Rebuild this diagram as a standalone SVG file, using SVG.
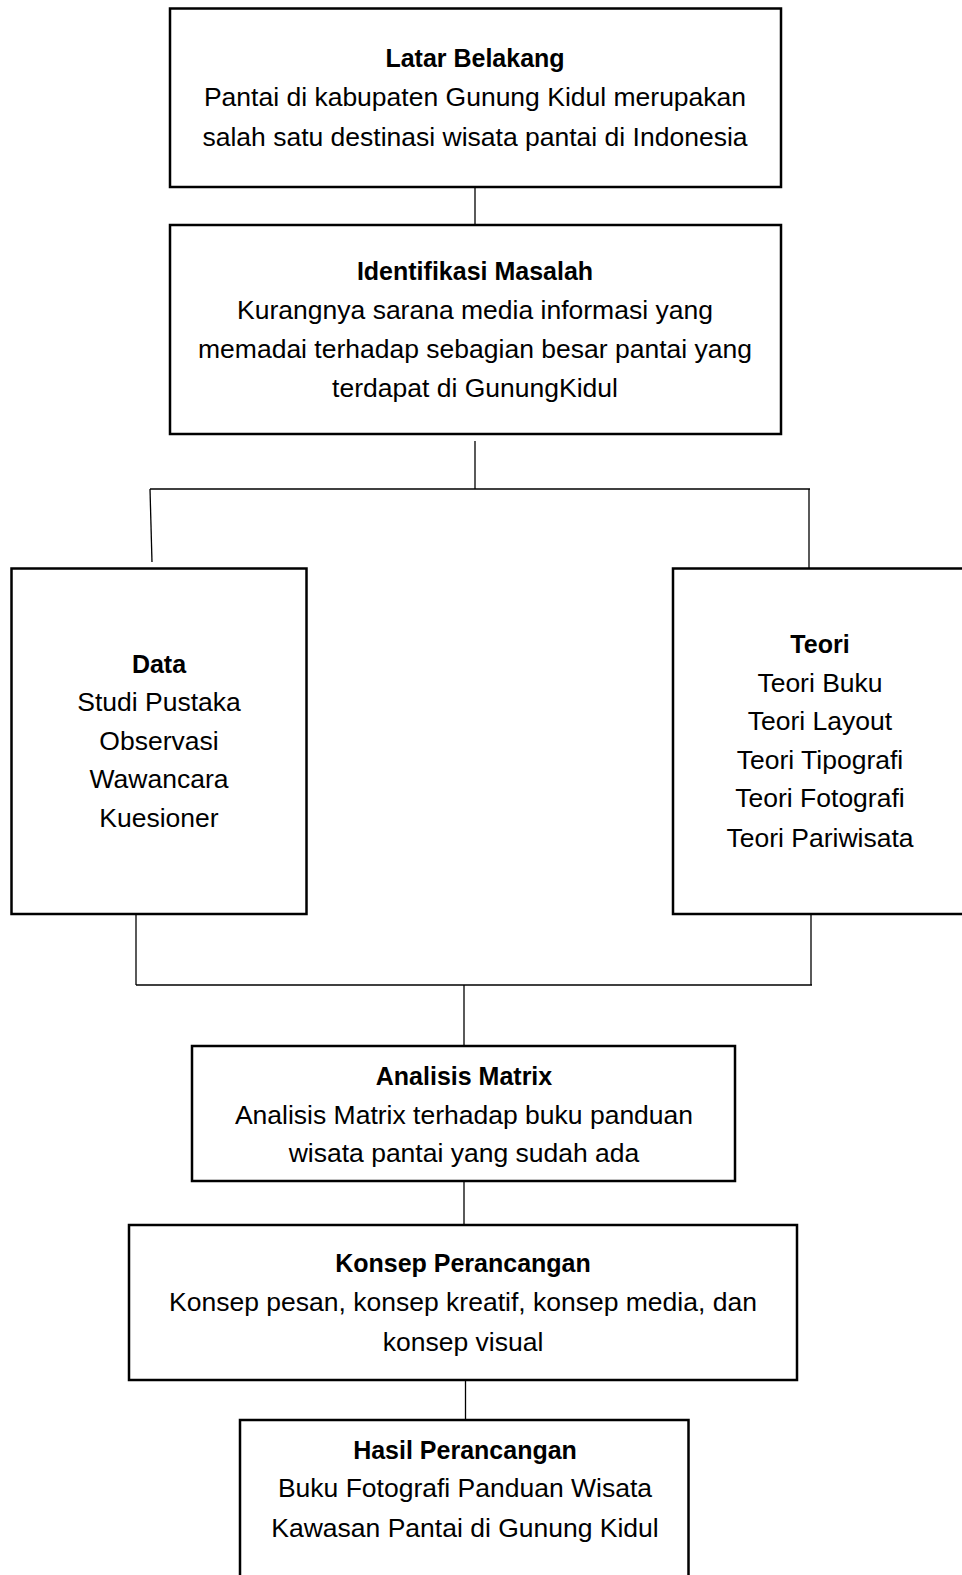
<svg xmlns="http://www.w3.org/2000/svg" width="962" height="1575" viewBox="0 0 962 1575">
<style>
.box{fill:#fff;stroke:#000;stroke-width:2.5}
.ln{stroke:#000;stroke-width:1.3;fill:none}
text{font-family:"Liberation Sans",Arial,sans-serif;font-size:26.5px;fill:#000;text-anchor:middle}
.b{font-weight:bold;font-size:25px}
</style>
<rect width="962" height="1575" fill="#fff"/>
<g id="connectors">
<line class="ln" x1="475" y1="187" x2="475" y2="225"/>
<line class="ln" x1="475" y1="441" x2="475" y2="489"/>
<line class="ln" x1="150" y1="489" x2="810" y2="489"/>
<line class="ln" x1="150" y1="489" x2="152" y2="562"/>
<line class="ln" x1="809" y1="489" x2="809" y2="568"/>
<line class="ln" x1="136" y1="914" x2="136" y2="985"/>
<line class="ln" x1="811" y1="914" x2="811" y2="985"/>
<line class="ln" x1="136" y1="985" x2="812" y2="985"/>
<line class="ln" x1="464" y1="985" x2="464" y2="1046"/>
<line class="ln" x1="464" y1="1176" x2="464" y2="1225"/>
<line class="ln" x1="465.5" y1="1380" x2="465.5" y2="1420"/>
</g>
<g id="latar">
<rect class="box" x="170" y="8.5" width="611" height="178.5"/>
<text class="b" x="475" y="67">Latar Belakang</text>
<text x="475" y="106">Pantai di kabupaten Gunung Kidul merupakan</text>
<text x="475" y="146">salah satu destinasi wisata pantai di Indonesia</text>
</g>
<g id="identifikasi">
<rect class="box" x="170" y="225" width="611" height="209"/>
<text class="b" x="475" y="280">Identifikasi Masalah</text>
<text x="475" y="319">Kurangnya sarana media informasi yang</text>
<text x="475" y="358">memadai terhadap sebagian besar pantai yang</text>
<text x="475" y="397">terdapat di GunungKidul</text>
</g>
<g id="data">
<rect class="box" x="11.5" y="568.5" width="295" height="345.5"/>
<text class="b" x="159" y="673">Data</text>
<text x="159" y="711">Studi Pustaka</text>
<text x="159" y="750">Observasi</text>
<text x="159" y="788">Wawancara</text>
<text x="159" y="827">Kuesioner</text>
</g>
<g id="teori">
<rect class="box" x="673" y="568.5" width="300" height="345.5"/>
<text class="b" x="820" y="653">Teori</text>
<text x="820" y="692">Teori Buku</text>
<text x="820" y="730">Teori Layout</text>
<text x="820" y="769">Teori Tipografi</text>
<text x="820" y="807">Teori Fotografi</text>
<text x="820" y="847">Teori Pariwisata</text>
</g>
<g id="analisis">
<rect class="box" x="192" y="1046" width="543" height="135"/>
<text class="b" x="464" y="1085">Analisis Matrix</text>
<text x="464" y="1124">Analisis Matrix terhadap buku panduan</text>
<text x="464" y="1162">wisata pantai yang sudah ada</text>
</g>
<g id="konsep">
<rect class="box" x="129" y="1225" width="668" height="155"/>
<text class="b" x="463" y="1272">Konsep Perancangan</text>
<text x="463" y="1311">Konsep pesan, konsep kreatif, konsep media, dan</text>
<text x="463" y="1351">konsep visual</text>
</g>
<g id="hasil">
<rect class="box" x="240" y="1420" width="448.5" height="165"/>
<text class="b" x="465" y="1459">Hasil Perancangan</text>
<text x="465" y="1497">Buku Fotografi Panduan Wisata</text>
<text x="465" y="1537">Kawasan Pantai di Gunung Kidul</text>
</g>
</svg>
